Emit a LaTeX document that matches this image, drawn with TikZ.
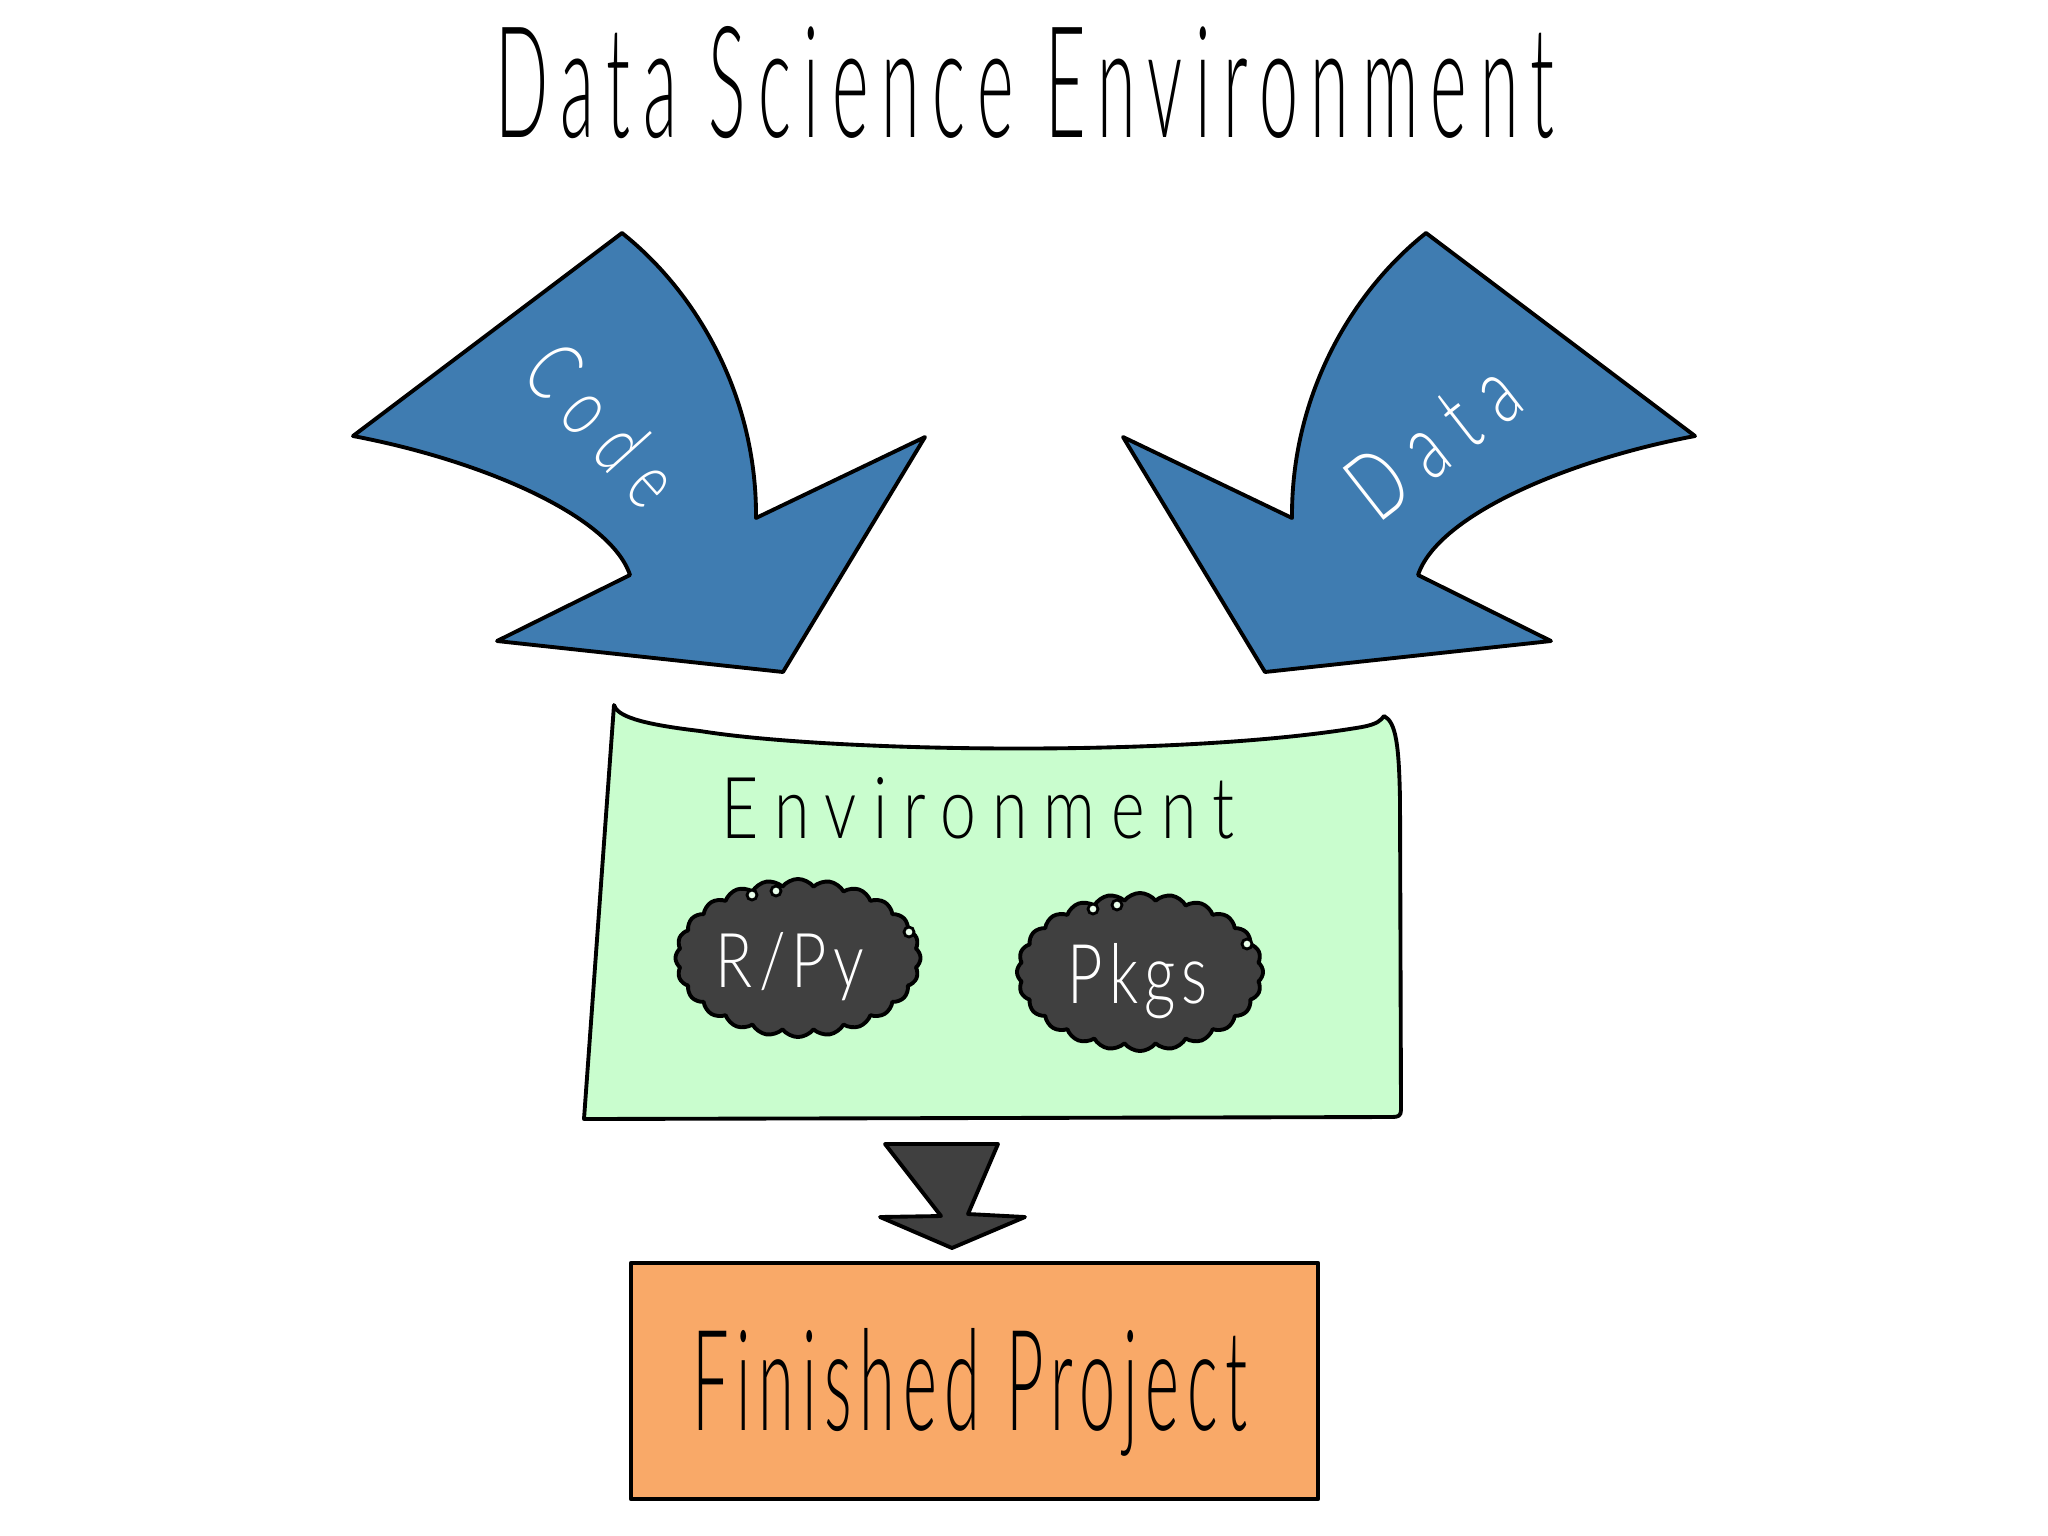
\documentclass[tikz,border=0pt]{standalone}
\usepackage{fontspec}
\setmainfont{Open Sans}
\newfontfamily\hand{Lato Light}
\usetikzlibrary{shapes.symbols}
\definecolor{arrowblue}{RGB}{63,124,177}
\definecolor{envgreen}{RGB}{201,253,206}
\definecolor{projorange}{RGB}{249,169,104}
\definecolor{darkfill}{RGB}{64,64,64}
\newcommand{\fitbox}[4][0]{\resizebox{#2}{#3}{\hand\addfontfeature{LetterSpace=#1}#4}}
\begin{document}
\begin{tikzpicture}[x=0.01cm,y=-0.01cm,
  outline/.style={draw=black, line width=1.1pt, line join=round},
  bigarrow/.style={outline, fill=arrowblue},
  txt/.style={inner sep=0pt, anchor=base},
  rtxt/.style={inner sep=0pt, text=white},
  cloudbox/.style={cloud, cloud puffs=24, cloud puff arc=105, outline, fill=darkfill, inner sep=0pt},
  loopdot/.style={circle, draw=black, line width=0.8pt, fill=envgreen!40!white, inner sep=0pt, minimum size=0.1cm}]
\fill[white] (0,0) rectangle (2048,1536);
\useasboundingbox (0,0) rectangle (2048,1536);

% title
\node[txt] (title) at (1025,137) {\fitbox[18]{10.58cm}{1.11cm}{Data Science Environment}};

% Code arrow
\path[bigarrow] (622,233) .. controls (700,295) and (757,400) .. (756,518)
  -- (925,437) -- (783,672) -- (497,641) -- (630,575)
  .. controls (610,515) and (480,460) .. (353,436) -- cycle;
\node[rtxt, rotate=-48] (codetext) at (603,424) {\fitbox[30]{1.85cm}{0.6cm}{Code}};

% Data arrow
\path[bigarrow] (1426,233) .. controls (1348,295) and (1291,400) .. (1292,518)
  -- (1123,437) -- (1265,672) -- (1551,641) -- (1418,575)
  .. controls (1438,515) and (1568,460) .. (1695,436) -- cycle;
\node[rtxt, rotate=38] (datatext) at (1433,440) {\fitbox[30]{1.9cm}{0.66cm}{Data}};

% environment box
\path[outline, fill=envgreen] (614,705) .. controls (617,716) and (640,724) .. (700,731)
  .. controls (830,752) and (1180,758) .. (1362,727)
  .. controls (1378,724) and (1381,720) .. (1384,716)
  .. controls (1396,722) and (1399,745) .. (1400,800)
  -- (1401,1110) .. controls (1401,1116) and (1398,1117) .. (1392,1117)
  -- (584,1119) -- cycle;
\node[txt] (envtext) at (978,838) {\fitbox[25]{5.12cm}{0.61cm}{Environment}};

% clouds
\node[cloudbox, minimum width=2.45cm, minimum height=1.58cm] (rpycloud) at (798,958) {};
\node[loopdot] (rl1) at (752,895) {};
\node[loopdot] (rl2) at (776,891) {};
\node[loopdot] (rl3) at (909,932) {};
\node[txt, text=white] (rpytext) at (790,987) {\fitbox[10]{1.48cm}{0.55cm}{R/Py}};

\node[cloudbox, minimum width=2.46cm, minimum height=1.58cm] (pkgcloud) at (1140,972) {};
\node[loopdot] (pl1) at (1093,909) {};
\node[loopdot] (pl2) at (1117,905) {};
\node[loopdot] (pl3) at (1247,944) {};
\node[txt, text=white] (pkgtext) at (1138,1003) {\fitbox[10]{1.40cm}{0.6cm}{Pkgs}};

% down arrow
\path[outline, fill=darkfill] (885,1144) -- (998,1144) -- (968,1214) -- (1025,1217)
  -- (952,1248) -- (880,1217) -- (941,1216) -- cycle;

% finished project
\node[outline, fill=projorange, minimum width=6.87cm, minimum height=2.36cm, inner sep=0pt] (project) at (974.5,1381) {};
\node[txt] (projtext) at (970,1430) {\fitbox[12]{5.55cm}{1.02cm}{Finished Project}};
\end{tikzpicture}
\end{document}
